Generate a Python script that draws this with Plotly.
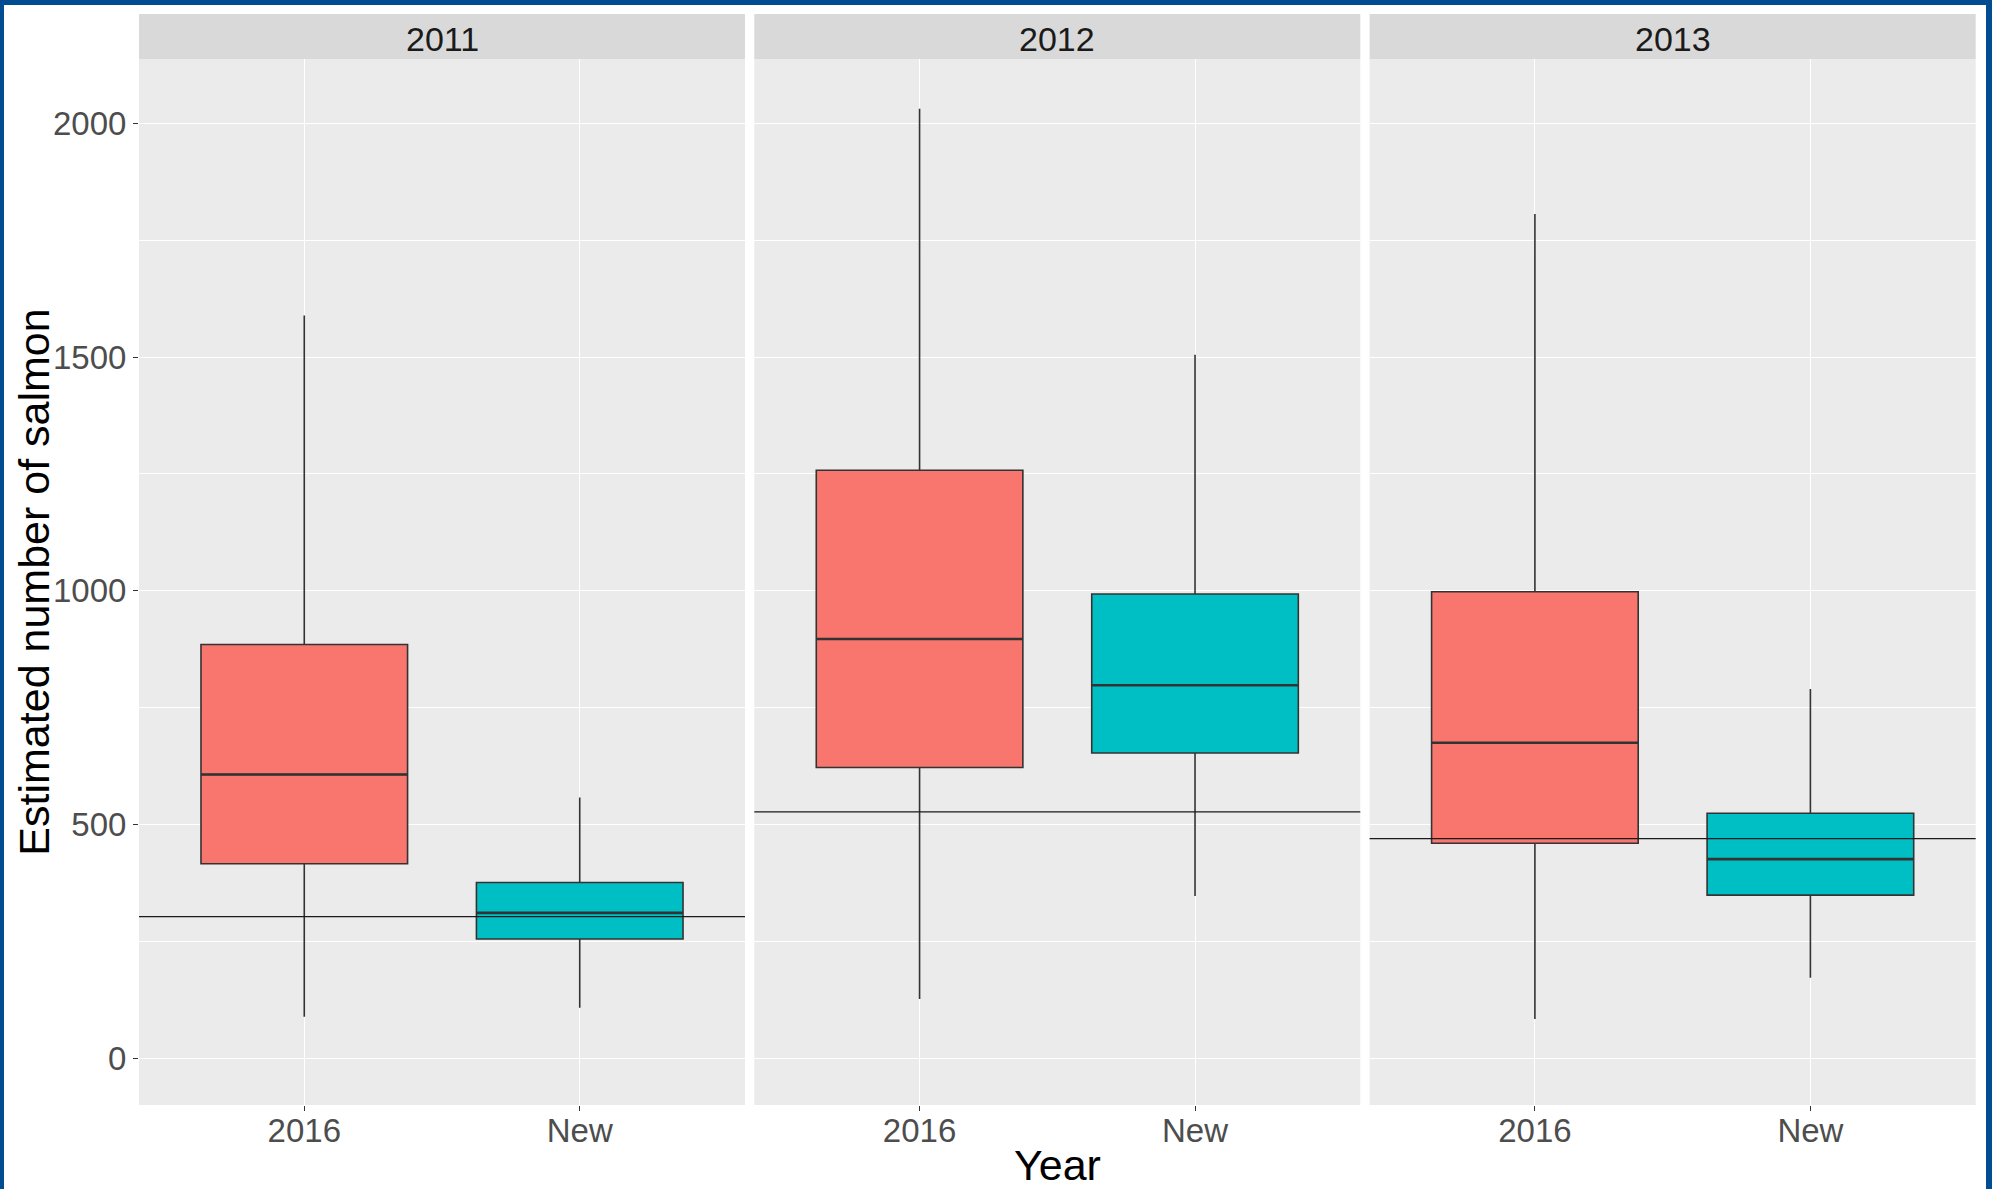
import plotly.graph_objects as go

W, H = 1992, 1189

# ---------------- data ----------------
years = ["2011", "2012", "2013"]
groups = ["2016", "New"]
group_colors = ["#F8766D", "#00BFC4"]

# box statistics per year (2011, 2012, 2013)
upper_2016 = [1589, 2031, 1806]
q3_2016 = [885, 1258, 998]
median_2016 = [607, 897, 675]
q1_2016 = [416, 622, 460]
lower_2016 = [89, 127, 84]

upper_new = [558, 1505, 790]
q3_new = [376, 993, 524]
median_new = [311, 798, 426]
q1_new = [255, 653, 349]
lower_new = [108, 347, 172]

reference_line = [303, 527, 470]

y_ticks = [0, 500, 1000, 1500, 2000]

stats = {
    "2016": dict(upper=upper_2016, q3=q3_2016, med=median_2016, q1=q1_2016, lower=lower_2016),
    "New": dict(upper=upper_new, q3=q3_new, med=median_new, q1=q1_new, lower=lower_new),
}

# ---------------- layout helpers ----------------
def px_x(v):
    return v / W

def px_y(v):
    return 1 - v / H

panel_px = [(139, 745), (754.3, 1360.3), (1369.6, 1975.7)]
panel_top, panel_bottom = 59.3, 1105
strip_top = 14
box_width = 0.75
FONT = "Liberation Sans, Arial, sans-serif"
TICK_SIZE = 33

fig = go.Figure()
shapes = []
annotations = []

for p, year in enumerate(years):
    xa = "x" if p == 0 else f"x{p+1}"
    ya = "y" if p == 0 else f"y{p+1}"
    for g, grp in enumerate(groups):
        s = stats[grp]
        fig.add_trace(go.Box(
            x=[g],
            q1=[s["q1"][p]], median=[s["med"][p]], q3=[s["q3"][p]],
            lowerfence=[s["lower"][p]], upperfence=[s["upper"][p]],
            width=box_width, whiskerwidth=0,
            fillcolor=group_colors[g],
            line=dict(color="#333333", width=1.6),
            boxpoints=False, showlegend=False, name=grp,
            xaxis=xa, yaxis=ya,
        ))
        # thicker median line (ggplot fatten)
        fig.add_trace(go.Scatter(
            x=[g - box_width / 2, g + box_width / 2],
            y=[s["med"][p], s["med"][p]],
            mode="lines", line=dict(color="#333333", width=2.6),
            showlegend=False, hoverinfo="skip",
            xaxis=xa, yaxis=ya,
        ))
    # horizontal reference line
    shapes.append(dict(
        type="line", xref=f"{xa} domain", yref=ya,
        x0=0, x1=1, y0=reference_line[p], y1=reference_line[p],
        line=dict(color="#1a1a1a", width=1.3), layer="above",
    ))
    # strip
    x0, x1 = panel_px[p]
    shapes.append(dict(
        type="rect", xref="paper", yref="paper",
        x0=px_x(x0), x1=px_x(x1), y0=px_y(panel_top), y1=px_y(strip_top),
        fillcolor="#D9D9D9", line=dict(width=0), layer="below",
    ))
    annotations.append(dict(
        text=year, xref="paper", yref="paper",
        x=px_x((x0 + x1) / 2), y=px_y((panel_top + strip_top) / 2 + 2),
        xanchor="center", yanchor="middle", showarrow=False,
        font=dict(family=FONT, size=34, color="#1A1A1A"),
    ))

layout_axes = {}
for p in range(3):
    xkey = "xaxis" if p == 0 else f"xaxis{p+1}"
    ykey = "yaxis" if p == 0 else f"yaxis{p+1}"
    x0, x1 = panel_px[p]
    layout_axes[xkey] = dict(
        domain=[px_x(x0), px_x(x1)],
        anchor="y" if p == 0 else f"y{p+1}",
        range=[-0.6, 1.6],
        tickvals=list(range(len(groups))), ticktext=groups,
        showgrid=True, gridcolor="white", gridwidth=1.3,
        zeroline=False, showline=False,
        ticks="outside", ticklen=5, tickwidth=1.1, tickcolor="#333333",
        ticklabelstandoff=-9,
        tickfont=dict(family=FONT, size=TICK_SIZE, color="#4D4D4D"),
        fixedrange=True,
    )
    layout_axes[ykey] = dict(
        domain=[px_y(panel_bottom), px_y(panel_top)],
        anchor="x" if p == 0 else f"x{p+1}",
        range=[-100, 2137],
        tickvals=y_ticks,
        showticklabels=(p == 0),
        showgrid=True, gridcolor="white", gridwidth=1.3,
        minor=dict(dtick=250, tick0=0, showgrid=True, gridcolor="white", gridwidth=0.7),
        zeroline=False, showline=False,
        ticks="outside" if p == 0 else "", ticklen=5, tickwidth=1.1, tickcolor="#333333",
        tickfont=dict(family=FONT, size=TICK_SIZE, color="#4D4D4D"),
        fixedrange=True,
    )
    if p > 0:
        layout_axes[ykey]["matches"] = "y"

# axis titles
annotations.append(dict(
    text="Estimated number of salmon", xref="paper", yref="paper",
    x=px_x(34.5), y=px_y((panel_top + panel_bottom) / 2),
    xanchor="center", yanchor="middle", textangle=-90, showarrow=False,
    font=dict(family=FONT, size=43, color="black"),
))
annotations.append(dict(
    text="Year", xref="paper", yref="paper",
    x=px_x((panel_px[1][0] + panel_px[1][1]) / 2), y=px_y(1165),
    xanchor="center", yanchor="middle", showarrow=False,
    font=dict(family=FONT, size=43, color="black"),
))

# blue frame
frame = "#024C91"
for (a, b, c, d) in [(0, W, 0, 5), (0, 4, 0, H), (1986, W, 0, H)]:
    shapes.append(dict(
        type="rect", xref="paper", yref="paper",
        x0=px_x(a), x1=px_x(b), y0=px_y(d), y1=px_y(c),
        fillcolor=frame, line=dict(width=0), layer="above",
    ))

fig.update_layout(
    width=W, height=H,
    margin=dict(l=0, r=0, t=0, b=0),
    paper_bgcolor="white", plot_bgcolor="#EBEBEB",
    boxmode="overlay",
    shapes=shapes, annotations=annotations,
    showlegend=False,
    **layout_axes,
)

fig.write_html("out.html", config={"displayModeBar": False})
